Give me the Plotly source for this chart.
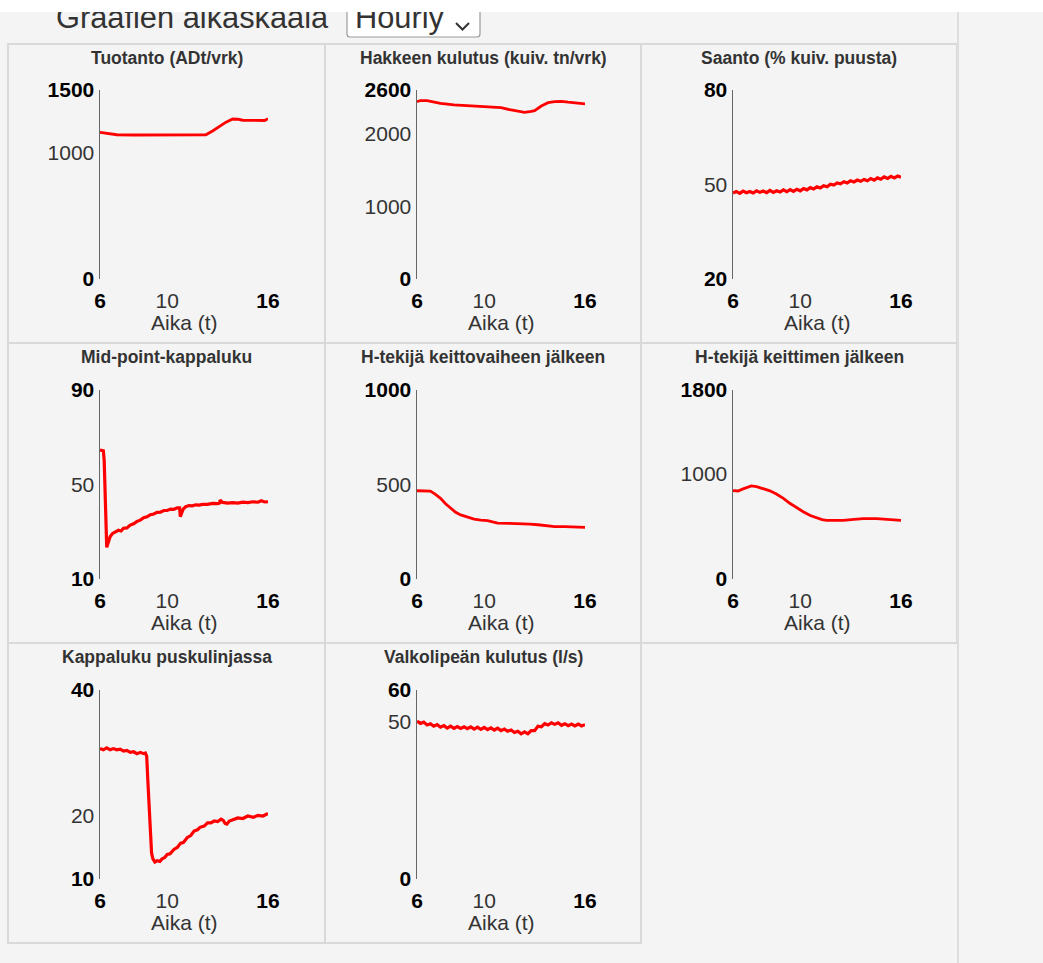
import plotly.graph_objects as go

W, H = 1043, 963
BG = "#f4f4f4"
RED = "#ff0000"
GRID = "#e2e2e2"
FONT = "Arial, 'Liberation Sans', sans-serif"

# ---------------- data (time in hours) ----------------
tuotanto_t = [6.0, 6.5, 7.0, 8.0, 9.0, 10.0, 11.0, 12.0, 12.3, 12.7, 13.1, 13.5, 13.9,
              14.2, 14.5, 15.0, 15.5, 15.8, 16.0]
tuotanto = [1164, 1153, 1145, 1143, 1143, 1142, 1143, 1142, 1145, 1175, 1212, 1245, 1270,
            1268, 1260, 1258, 1257, 1258, 1272]

hakke_t = [6.0, 6.2, 6.6, 7.0, 7.4, 8.2, 9.0, 10.0, 11.0, 11.6, 12.0, 12.4, 12.8, 13.0,
           13.4, 13.8, 14.2, 14.6, 15.0, 15.4, 15.8, 16.0]
hakke = [2439, 2455, 2455, 2432, 2417, 2394, 2385, 2371, 2357, 2325, 2305, 2293, 2305, 2316,
         2380, 2425, 2439, 2444, 2432, 2421, 2410, 2408]

saanto_t = [6.0, 6.2, 6.4, 6.6, 6.8, 7.0, 7.2, 7.4, 7.6, 7.8, 8.0, 8.2, 8.4, 8.6, 8.8, 9.0,
            9.2, 9.4, 9.6, 9.8, 10.0, 10.2, 10.4, 10.6, 10.8, 11.0, 11.2, 11.4, 11.6, 11.8,
            12.0, 12.2, 12.4, 12.6, 12.8, 13.0, 13.2, 13.4, 13.6, 13.8, 14.0, 14.2, 14.4,
            14.6, 14.8, 15.0, 15.2, 15.4, 15.6, 15.8, 16.0]
saanto = [47.3, 47.8, 47.2, 47.9, 47.4, 47.8, 47.3, 48.0, 47.5, 47.9, 47.4, 48.1, 47.5, 48.0,
          47.6, 48.3, 47.7, 48.4, 47.8, 48.5, 48.0, 48.7, 48.3, 49.0, 48.6, 49.3, 48.9, 49.6,
          49.3, 50.1, 49.8, 50.5, 50.2, 50.9, 50.5, 51.2, 50.8, 51.4, 51.0, 51.6, 51.2, 51.9,
          51.4, 52.1, 51.7, 52.4, 51.9, 52.6, 52.1, 52.7, 52.3]

midpoint_t = [6.0, 6.2, 6.25, 6.33, 6.4, 6.45, 6.6, 6.75, 6.9, 7.1, 7.25, 7.4, 7.6, 7.8, 8.0,
              8.2, 8.4, 8.6, 8.8, 9.0, 9.2, 9.4, 9.6, 9.8, 10.0, 10.2, 10.4, 10.6, 10.74,
              10.78, 10.95, 11.1, 11.3, 11.5, 11.7, 11.9, 12.1, 12.4, 12.7, 13.0, 13.12, 13.15,
              13.3, 13.6, 13.9, 14.2, 14.5, 14.8, 15.1, 15.4, 15.6, 15.8, 16.0]
midpoint = [64.6, 64.3, 60.0, 40.0, 23.4, 24.5, 27.9, 29.3, 30.0, 30.6, 30.3, 31.5, 31.6, 32.8,
            33.4, 34.4, 34.9, 35.9, 36.3, 37.2, 37.5, 38.2, 38.3, 39.0, 39.0, 39.6, 39.5, 40.1,
            40.1, 36.4, 39.6, 40.6, 41.1, 41.0, 41.4, 41.3, 41.6, 41.6, 42.0, 41.9, 42.2, 43.4,
            42.4, 42.1, 42.3, 42.1, 42.5, 42.3, 42.7, 42.5, 43.1, 42.6, 42.7]

hk_vaihe_t = [6.0, 6.4, 6.8, 7.1, 7.4, 7.7, 8.0, 8.3, 8.6, 9.0, 9.4, 9.8, 10.2, 10.5, 10.8,
              11.5, 12.2, 12.7, 13.2, 13.7, 14.2, 14.8, 15.4, 16.0]
hk_vaihe = [467, 467, 465, 448, 427, 398, 374, 353, 339, 326, 317, 312, 309, 302, 296,
            294, 293, 290, 287, 281, 277, 277, 277, 273]

hk_keitin_t = [6.0, 6.3, 6.6, 7.09, 7.4, 7.79, 8.2, 8.58, 9.0, 9.38, 9.8, 10.18, 10.6, 10.97,
               11.3, 11.57, 12.0, 12.56, 13.2, 13.76, 14.55, 15.34, 16.0]
hk_keitin = [841, 838, 858, 886, 880, 864, 840, 810, 768, 721, 678, 641, 605, 584,
             565, 559, 556, 559, 568, 575, 575, 565, 559]

puskuli_t = [6.0, 6.2, 6.4, 6.6, 6.8, 7.0, 7.2, 7.4, 7.6, 7.8, 8.0, 8.2, 8.4, 8.6, 8.7, 8.78,
             8.85, 8.92, 9.0, 9.07, 9.15, 9.27, 9.4, 9.56, 9.7, 9.85, 10.0, 10.17, 10.4, 10.6,
             10.8, 10.96, 11.2, 11.4, 11.6, 11.8, 11.95, 12.2, 12.4, 12.6, 12.8, 13.0, 13.2,
             13.34, 13.45, 13.55, 13.7, 13.94, 14.2, 14.5, 14.8, 15.13, 15.4, 15.7, 16.0]
puskuli = [30.7, 30.5, 30.8, 30.5, 30.7, 30.5, 30.6, 30.3, 30.4, 30.1, 30.2, 29.9, 30.1, 29.9,
           30.0, 29.5, 25.5, 21.5, 17.5, 14.1, 13.2, 12.7, 12.9, 12.8, 13.2, 13.4, 13.9, 14.0,
           14.7, 15.0, 15.7, 15.8, 16.6, 16.9, 17.6, 17.8, 18.2, 18.4, 18.9, 18.9, 19.2, 19.1,
           19.5, 19.3, 18.8, 18.7, 19.2, 19.4, 19.7, 19.6, 20.0, 19.8, 20.1, 20.0, 20.4]

valkolipea_t = saanto_t
valkolipea = [50.1, 49.4, 49.8, 48.9, 49.3, 48.5, 49.0, 48.2, 48.7, 47.9, 48.5, 47.8, 48.4,
              47.8, 48.3, 47.7, 48.3, 47.6, 48.2, 47.5, 48.1, 47.4, 48.0, 47.3, 47.9, 47.1,
              47.6, 46.9, 47.3, 46.5, 46.9, 46.1, 46.7, 46.1, 47.1, 47.1, 48.5, 48.3, 49.3,
              48.9, 49.6, 49.1, 49.6, 48.8, 49.3, 48.7, 49.2, 48.6, 49.2, 48.6, 49.0]

titles = ["Tuotanto (ADt/vrk)", "Hakkeen kulutus (kuiv. tn/vrk)", "Saanto (% kuiv. puusta)",
          "Mid-point-kappaluku", "H-tekijä keittovaiheen jälkeen", "H-tekijä keittimen jälkeen",
          "Kappaluku puskulinjassa", "Valkolipeän kulutus (l/s)"]
series_t = [tuotanto_t, hakke_t, saanto_t, midpoint_t, hk_vaihe_t, hk_keitin_t, puskuli_t,
            valkolipea_t]
series_y = [tuotanto, hakke, saanto, midpoint, hk_vaihe, hk_keitin, puskuli, valkolipea]
y_ranges = [[0, 1500], [0, 2600], [20, 80], [10, 90], [0, 1000], [0, 1800], [10, 40], [0, 60]]
y_ticks = [[0, 1000, 1500], [0, 1000, 2000, 2600], [20, 50, 80], [10, 50, 90],
           [0, 500, 1000], [0, 1000, 1800], [10, 20, 40], [0, 50, 60]]
y_grid = [[0, 1000], [0, 1000, 2000], [50], [50], [0, 500, 1000], [0, 1000], [20, 40], [0, 50]]
noisy = [False, False, True, True, False, False, True, True]
x_ticks = [6, 10, 16]
x_grid = [10]
x_title = "Aika (t)"

# ---------------- page geometry (px) ----------------
panel_x = [(8, 325), (325, 641), (641, 957)]
panel_y = [(44, 343), (343, 643), (643, 943)]
plot_top = [90, 390, 690]
PLOT_DX, PLOT_W, PLOT_H = 92, 168, 189


def px_x(v):
    return v / W


def px_y(v):
    return 1 - v / H


def tick_text(vals):
    out = []
    for i, v in enumerate(vals):
        if i == 0 or i == len(vals) - 1:
            out.append(f"<span style='color:#000'><b>{v}</b></span>")
        else:
            out.append(str(v))
    return out


fig = go.Figure()
layout = dict(
    width=W, height=H, autosize=False,
    margin=dict(l=0, r=0, t=0, b=0, pad=0, autoexpand=False),
    paper_bgcolor=BG, plot_bgcolor="rgba(0,0,0,0)",
    font=dict(family=FONT, color="#333"),
    showlegend=False,
)
shapes = []
annotations = []

for k in range(8):
    r, c = divmod(k, 3)
    n = "" if k == 0 else str(k + 1)
    xa, ya = f"xaxis{n}", f"yaxis{n}"
    xr, yr = f"x{n}", f"y{n}"
    left = panel_x[c][0] + PLOT_DX
    top = plot_top[r]
    layout[xa] = dict(
        domain=[px_x(left), px_x(left + PLOT_W)], anchor=yr, range=[6, 16],
        tickmode="array", tickvals=x_ticks, ticktext=tick_text(x_ticks),
        tickfont=dict(size=21, color="#333"), ticks="", ticklabelstandoff=7,
        showline=False, showgrid=False, zeroline=False, fixedrange=True,
        automargin=False,
    )
    layout[ya] = dict(
        domain=[px_y(top + PLOT_H), px_y(top)], anchor=xr, range=y_ranges[k],
        tickmode="array", tickvals=y_ticks[k], ticktext=tick_text(y_ticks[k]),
        tickfont=dict(size=21, color="#333"), ticks="", ticklabelstandoff=0,
        showline=True, linecolor="#666", linewidth=1.5, showgrid=False, zeroline=False,
        fixedrange=True, automargin=False,
    )
    for g in y_grid[k]:
        shapes.append(dict(type="line", layer="below", xref=f"{xr} domain", x0=0, x1=1,
                           yref=yr, y0=g, y1=g, line=dict(color=GRID, width=1.5)))
    for g in x_grid:
        shapes.append(dict(type="line", layer="below", xref=xr, x0=g, x1=g,
                           yref=f"{yr} domain", y0=0, y1=1,
                           line=dict(color=GRID, width=1.5)))
    fig.add_trace(go.Scatter(
        x=series_t[k], y=series_y[k], mode="lines", xaxis=xr, yaxis=yr,
        line=dict(color=RED, width=3.2 if noisy[k] else 2.8), hoverinfo="skip",
    ))
    # panel frame, title and x-axis caption
    shapes.append(dict(type="rect", layer="below", xref="paper", yref="paper",
                       x0=px_x(panel_x[c][0]), x1=px_x(panel_x[c][1]),
                       y0=px_y(panel_y[r][1]), y1=px_y(panel_y[r][0]),
                       line=dict(color="#d9d9d9", width=2), fillcolor=BG))
    annotations.append(dict(text=f"<b>{titles[k]}</b>", xref="paper", yref="paper",
                            x=px_x((panel_x[c][0] + panel_x[c][1]) / 2),
                            y=px_y(panel_y[r][0] + 14), xanchor="center", yanchor="middle",
                            showarrow=False, font=dict(size=17.5, color="#333")))
    annotations.append(dict(text=x_title, xref=f"{xr} domain", yref="paper", x=0.5,
                            y=px_y(top + PLOT_H + 43), xanchor="center", yanchor="middle",
                            showarrow=False, font=dict(size=21, color="#333")))

# header strip: time-scale selector
layout["xaxis9"] = dict(domain=[0, 1], range=[0, W], anchor="y9", visible=False,
                        fixedrange=True, automargin=False)
layout["yaxis9"] = dict(domain=[px_y(44), px_y(12)], range=[44, 12], anchor="x9",
                        visible=False, fixedrange=True, automargin=False)
fig.add_trace(go.Scatter(
    x=[56, 355], y=[20, 20], mode="text", text=["Graafien aikaskaala", "Hourly"],
    textposition="middle right", textfont=dict(size=30.8, color="#333", family=FONT),
    xaxis="x9", yaxis="y9", cliponaxis=True, hoverinfo="skip",
))

# selector box (open at the top, rounded lower corners)
bx0, bx1, by0, by1, rad = 347, 480, 4, 37, 3
box_path = (f"M {px_x(bx0)},{px_y(by0)} L {px_x(bx0)},{px_y(by1 - rad)} "
            f"Q {px_x(bx0)},{px_y(by1)} {px_x(bx0 + rad)},{px_y(by1)} "
            f"L {px_x(bx1 - rad)},{px_y(by1)} "
            f"Q {px_x(bx1)},{px_y(by1)} {px_x(bx1)},{px_y(by1 - rad)} "
            f"L {px_x(bx1)},{px_y(by0)}")
shapes.append(dict(type="path", layer="below", xref="paper", yref="paper", path=box_path,
                   fillcolor="#ffffff", line=dict(color="#9a9a9a", width=1.2)))
chev = (f"M {px_x(456)},{px_y(23)} L {px_x(462.5)},{px_y(29.5)} "
        f"L {px_x(469)},{px_y(23)}")
shapes.append(dict(type="path", layer="above", xref="paper", yref="paper", path=chev,
                   line=dict(color="#333", width=2)))
# white strip at the very top
shapes.append(dict(type="rect", layer="below", xref="paper", yref="paper",
                   x0=0, x1=1, y0=px_y(12), y1=1, fillcolor="#ffffff",
                   line=dict(width=0)))
# divider of the right-hand column
shapes.append(dict(type="line", layer="below", xref="paper", yref="paper",
                   x0=px_x(958), x1=px_x(958), y0=0, y1=px_y(12),
                   line=dict(color="#dedede", width=2)))

layout["shapes"] = shapes
layout["annotations"] = annotations
fig.update_layout(**layout)
fig.write_html("out.html", config={"displayModeBar": False, "staticPlot": True})
